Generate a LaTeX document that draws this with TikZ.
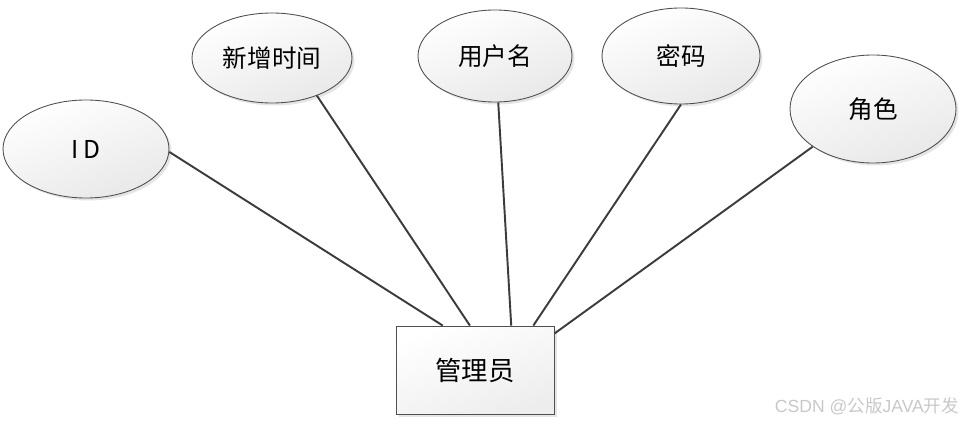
\documentclass[tikz,border=0pt]{standalone}
\usepackage{fontspec}
\setmainfont{Liberation Sans}
\newfontfamily\cjk{Noto Sans CJK SC}
\usetikzlibrary{shapes.geometric,shadows,calc}
\definecolor{edgegray}{HTML}{505050}
\definecolor{linegray}{HTML}{3C3C3C}
\definecolor{markgray}{HTML}{C8C8C8}
\tikzset{
  attr/.style={ellipse, draw=edgegray, line width=0.5pt, inner sep=0pt,
               top color=white, bottom color=gray!18, shading angle=20,
               drop shadow={shadow xshift=0.05cm, shadow yshift=-0.05cm, fill=gray!45, opacity=0.45},
               font=\cjk\fontsize{14}{16}\selectfont},
  ent/.style={draw=edgegray, line width=0.5pt, inner sep=0pt,
              top color=white, bottom color=gray!14, shading angle=20,
              drop shadow={shadow xshift=0.06cm, shadow yshift=-0.06cm, fill=gray!45, opacity=0.45},
              minimum width=3.16cm, minimum height=1.76cm,
              font=\cjk\fontsize{15}{17}\selectfont},
  link/.style={draw=linegray, line width=1.1pt},
}
\begin{document}
\begin{tikzpicture}
  \useasboundingbox (0,0) rectangle (19.3,8.48);
  \node[ent] (adm) at (9.50,1.08) {管理员};
  \node[attr, minimum width=3.32cm, minimum height=1.96cm] (id) at (1.72,5.50) {I\,D};
  \node[attr, minimum width=3.20cm, minimum height=1.80cm] (time) at (5.44,7.32) {新增时间};
  \node[attr, minimum width=3.08cm, minimum height=1.84cm] (user) at (9.90,7.36) {用户名};
  \node[attr, minimum width=3.16cm, minimum height=1.92cm] (pwd) at (13.62,7.36) {密码};
  \node[attr, minimum width=3.32cm, minimum height=2.16cm] (role) at (17.46,6.30) {角色};
  \draw[link] (id.-2) -- ($(adm.north west)!0.297!(adm.north east)$);
  \draw[link] (time.-40) -- ($(adm.north west)!0.468!(adm.north east)$);
  \draw[link] (user.-86) -- ($(adm.north west)!0.728!(adm.north east)$);
  \draw[link] (pwd.-90) -- ($(adm.north west)!0.867!(adm.north east)$);
  \draw[link] (role.212) -- ($(adm.north east)!0.09!(adm.south east)$);
  \node[text=markgray, font=\fontsize{10}{12}\selectfont] (mark) at (17.34,0.36) {CSDN @{\cjk 公版}JAVA{\cjk 开发}};
\end{tikzpicture}
\end{document}
